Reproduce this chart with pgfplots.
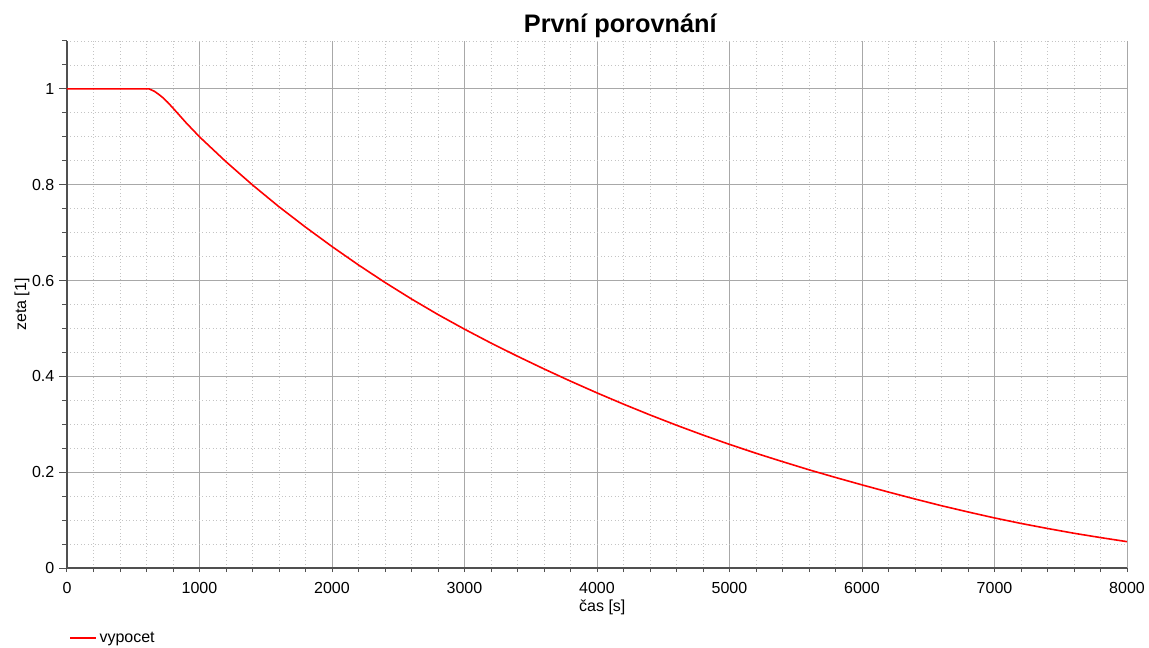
\documentclass[border=0pt]{standalone}
\usepackage{pgfplots}
\pgfplotsset{compat=1.18}
\usepackage{fontspec}
\setmainfont{Liberation Sans}

\definecolor{majgrid}{HTML}{A8A8A8}
\definecolor{mingrid}{HTML}{C4C4C4}
\definecolor{axline}{HTML}{505050}

\pgfplotstableread{
t zeta
0 1.000
300 1.000
600 1.000
620 1.000
660 0.995
700 0.987
727 0.981
760 0.972
800 0.960
900 0.929
1000 0.900
1200 0.848
1400 0.7995
1600 0.754
1800 0.7115
2000 0.671
2200 0.6325
2400 0.596
2600 0.5615
2800 0.529
3000 0.4985
3200 0.4695
3400 0.442
3600 0.4155
3800 0.390
4000 0.3655
4200 0.342
4400 0.3195
4600 0.298
4800 0.2775
5000 0.258
5200 0.2395
5400 0.222
5600 0.205
5800 0.189
6000 0.1735
6200 0.1585
6400 0.144
6600 0.130
6800 0.117
7000 0.1045
7200 0.093
7400 0.0825
7600 0.0725
7800 0.0635
8000 0.055
}\vypocet

\begin{document}
\begin{tikzpicture}
\useasboundingbox (0,0) rectangle (861.75pt,485.25pt);
\begin{axis}[
  at={(50.25pt,59.25pt)}, anchor=south west,
  scale only axis, width=795pt, height=395.25pt,
  xmin=0, xmax=8000, ymin=0, ymax=1.1,
  axis lines=left,
  axis line style={-, draw=axline, line width=1pt},
  xtick={0,1000,...,8000},
  ytick={0,0.2,0.4,0.6,0.8,1},
  minor xtick={200,400,600,800,1200,1400,1600,1800,2200,2400,2600,2800,3200,3400,3600,3800,4200,4400,4600,4800,5200,5400,5600,5800,6200,6400,6600,6800,7200,7400,7600,7800},
  minor ytick={0.05,0.1,0.15,0.25,0.3,0.35,0.45,0.5,0.55,0.65,0.7,0.75,0.85,0.9,0.95,1.05,1.1},
  grid=both,
  major grid style={draw=majgrid, line width=0.75pt},
  minor grid style={draw=mingrid, line width=0.6pt, dotted},
  tick align=outside,
  major tick length=6pt, minor tick length=3.75pt,
  tick style={draw=axline, line width=0.75pt},
  xtick style={/pgfplots/major tick length=3pt, /pgfplots/minor tick length=3pt},
  scaled ticks=false,
  /pgf/number format/1000 sep={},
  /pgf/number format/assume math mode=true,
  tick label style={font=\fontsize{12}{14}\selectfont, text=black},
  xticklabel style={yshift=-1.5pt},
  title={První porovnání},
  title style={at={(axis description cs:0.522,1)}, anchor=center, yshift=5.25pt,
    font=\fontsize{19}{22}\selectfont\bfseries},
  xlabel={čas [s]},
  ylabel={zeta [1]},
  every axis x label/.style={at={(axis description cs:0.505,0)}, anchor=center,
    yshift=-29.25pt, font=\fontsize{12}{14}\selectfont},
  every axis y label/.style={at={(axis description cs:0,0.5)}, anchor=center,
    xshift=-33.75pt, rotate=90, font=\fontsize{12}{14}\selectfont},
  legend style={at={(axis description cs:0,0)}, anchor=west, yshift=-52.5pt,
    xshift=1.5pt, draw=none, fill=none, inner sep=0pt,
    font=\fontsize{12}{14}\selectfont},
  legend cell align=left,
  legend image code/.code={\draw[#1] (0pt,0pt) -- (19.5pt,0pt);},
]
\addplot[red, line width=1.2pt] table[x=t, y=zeta] {\vypocet};
\addlegendentry{vypocet}
\end{axis}
\end{tikzpicture}
\end{document}
